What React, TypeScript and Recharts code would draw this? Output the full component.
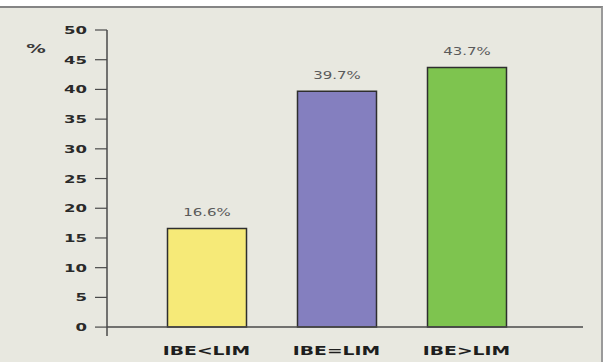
import React from 'react';
import { BarChart, Bar, XAxis, YAxis, Cell, LabelList, ReferenceLine } from 'recharts';

const categories = ['IBE<LIM', 'IBE=LIM', 'IBE>LIM'];
const shares = [16.6, 39.7, 43.7];
const yTicks = [0, 5, 10, 15, 20, 25, 30, 35, 40, 45, 50];

const BAR_COLORS = ['#f6ea78', '#847fbf', '#7ec44f'];
const AXIS_COLOR = '#4a4a4a';
const FONT = '"DejaVu Sans", Verdana, sans-serif';
// all text in this chart is drawn wide
const STRETCH = 1.5;

const data = categories.map((name, i) => ({ name, value: shares[i] }));

const YTick = (props: any) => {
  const { x, y, payload } = props;
  return (
    <text
      transform={`translate(${x},${y}) scale(${STRETCH},1)`}
      textAnchor="end"
      dy="0.36em"
      fontFamily={FONT}
      fontSize={11}
      fontWeight="bold"
      fill="#2a2a2a"
    >
      {payload.value}
    </text>
  );
};

const XTick = (props: any) => {
  const { x, y, payload } = props;
  return (
    <text
      transform={`translate(${x},${y + 19}) scale(${STRETCH},1)`}
      textAnchor="middle"
      fontFamily={FONT}
      fontSize={12.5}
      fontWeight="bold"
      fill="#1e1e1e"
    >
      {payload.value}
    </text>
  );
};

const ValueLabel = (props: any) => {
  const { x, y, width, value } = props;
  return (
    <text
      transform={`translate(${x + width / 2},${y - 12}) scale(${STRETCH},1)`}
      textAnchor="middle"
      fontFamily={FONT}
      fontSize={10}
      fill="#5a5a5a"
    >
      {`${Number(value).toFixed(1)}%`}
    </text>
  );
};

const App: React.FC = () => {
  return (
    <div style={{ position: 'absolute', left: 0, top: 0, width: 609, height: 362, background: '#ffffff' }}>
      <div
        style={{
          position: 'absolute',
          left: 0,
          top: 6,
          width: 603,
          height: 356,
          background: '#e8e8e0',
          borderTop: '2px solid #858585',
          borderRight: '2px solid #9a9a9a',
          boxSizing: 'border-box',
        }}
      />
      <div style={{ position: 'absolute', left: 0, top: 0 }}>
        <BarChart
          width={609}
          height={362}
          data={data}
          margin={{ top: 30, right: 26, bottom: 0, left: 0 }}
          barSize={79}
        >
          <XAxis
            dataKey="name"
            axisLine={false}
            tickLine={false}
            tickSize={0}
            tickMargin={0}
            height={26}
            padding={{ left: 34.5, right: 51.5 }}
            tick={<XTick />}
            interval={0}
          />
          <YAxis
            type="number"
            domain={[-1.5, 50]}
            ticks={yTicks}
            width={107}
            tickSize={12}
            tickMargin={8}
            axisLine={{ stroke: AXIS_COLOR, strokeWidth: 1.5 }}
            tickLine={{ stroke: AXIS_COLOR, strokeWidth: 1.2 }}
            tick={<YTick />}
            label={{
              value: '%',
              position: 'insideTopLeft',
              content: () => (
                <text
                  transform={`translate(36,53) scale(${STRETCH},1)`}
                  textAnchor="middle"
                  fontFamily={FONT}
                  fontSize={13}
                  fontWeight="bold"
                  fill="#3a3a3a"
                >
                  %
                </text>
              ),
            }}
          />
          <ReferenceLine y={0} stroke={AXIS_COLOR} strokeWidth={1.5} />
          <Bar dataKey="value" stroke="#2e2e2e" strokeWidth={1.5} isAnimationActive={false}>
            {data.map((entry, index) => (
              <Cell key={`cell-${index}`} fill={BAR_COLORS[index % BAR_COLORS.length]} />
            ))}
            <LabelList dataKey="value" content={<ValueLabel />} />
          </Bar>
        </BarChart>
      </div>
    </div>
  );
};

export default App;
